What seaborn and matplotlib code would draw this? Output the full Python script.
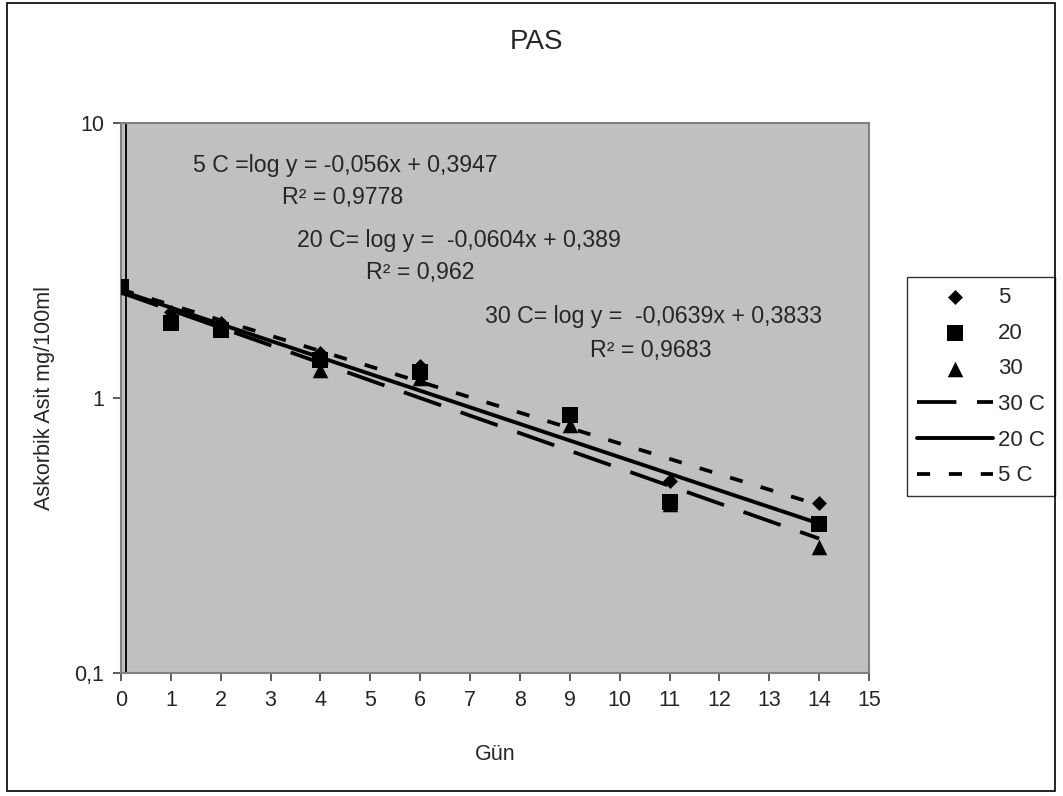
import numpy as np
import seaborn as sns
import matplotlib.pyplot as plt
from matplotlib.patches import Rectangle
from matplotlib.ticker import NullLocator

# gün (days) and measured ascorbic acid per storage temperature
days = [0, 1, 2, 4, 6, 9, 11, 14]
asit_5 = [2.53, 2.05, 1.87, 1.46, 1.31, 0.875, 0.50, 0.415]
asit_20 = [2.53, 1.87, 1.76, 1.38, 1.24, 0.864, 0.42, 0.349]
asit_30 = [2.53, 2.02, 1.82, 1.26, 1.18, 0.80, 0.41, 0.286]

# trend lines: log y = slope * x + intercept
fit_labels = ["30 C", "20 C", "5 C"]
fit_slopes = [-0.0639, -0.0604, -0.056]
fit_intercepts = [0.3833, 0.389, 0.3947]
fit_styles = [(0, (10.5, 5.5)), "-", (0, (3.5, 5))]
fit_widths = [2.7, 2.8, 2.7]

eq_texts = ["5 C =log y = -0,056x + 0,3947", "R² = 0,9778",
            "20 C= log y =  -0,0604x + 0,389", "R² = 0,962",
            "30 C= log y =  -0,0639x + 0,3833", "R² = 0,9683"]
eq_x = [1.44, 3.22, 3.52, 4.91, 7.29, 9.40]
eq_y = [7.03, 5.37, 3.75, 2.87, 1.975, 1.486]

sns.set_style("white")
plt.rcParams['font.family'] = ['Liberation Sans', 'DejaVu Sans']

fig = plt.figure(figsize=(10.63, 7.96), dpi=100)
ax = fig.add_axes([121 / 1063, 1 - 673 / 796, 748 / 1063, 550 / 796])
ax.set_facecolor('#c0c0c0')

sns.scatterplot(x=days, y=asit_5, marker='D', s=58, color='black', linewidth=0, label='5', ax=ax, zorder=4)
sns.scatterplot(x=days, y=asit_20, marker='s', s=117, color='black', linewidth=0, label='20', ax=ax, zorder=4)
sns.scatterplot(x=days, y=asit_30, marker='^', s=125, color='black', linewidth=0, label='30', ax=ax, zorder=4)

d = np.array(days, dtype=float)
for lab, a, b, ls, lw in zip(fit_labels, fit_slopes, fit_intercepts, fit_styles, fit_widths):
    sns.lineplot(x=d, y=10 ** (b + a * d), color='black', linestyle=ls, linewidth=lw, label=lab, ax=ax, zorder=3)

ax.axvline(0.1, color='black', lw=1.3, zorder=2)

ax.set_yscale('log')
ax.set_xlim(0, 15)
ax.set_ylim(0.1, 10)
ax.set_xticks(range(16))
ax.set_yticks([0.1, 1, 10])
ax.set_yticklabels(['0,1', '1', '10'])
ax.yaxis.set_minor_locator(NullLocator())
ax.tick_params(bottom=True, left=True, direction='out', length=6, width=1.2, color='#404040',
               labelsize=15.5, pad=6)
for sp in ax.spines.values():
    sp.set_color('#808080')
    sp.set_linewidth(1.5)

ax.set_xlabel('Gün', fontsize=15.5, labelpad=24)
ax.set_ylabel('Askorbik Asit mg/100ml', fontsize=15.5, labelpad=14)

for t, x, y in zip(eq_texts, eq_x, eq_y):
    ax.text(x, y, t, fontsize=16.7, ha='left', va='center')

fig.text(536 / 1063, 1 - 42 / 796, 'PAS', fontsize=20, ha='center', va='center')

leg = ax.legend(loc='upper left', bbox_to_anchor=(907 / 1063, 1 - 277 / 796), bbox_transform=fig.transFigure,
                fontsize=16, frameon=True, fancybox=False, edgecolor='black', borderaxespad=0,
                handlelength=3.4, handletextpad=0.25, labelspacing=0.66, borderpad=0.45)
leg.get_frame().set_linewidth(1.0)

fig.patches.append(Rectangle((7 / 1063, 5 / 796), 1048 / 1063, 788 / 796, transform=fig.transFigure,
                             fill=False, edgecolor='black', lw=1.2))

fig.savefig('out.png', dpi=100)
